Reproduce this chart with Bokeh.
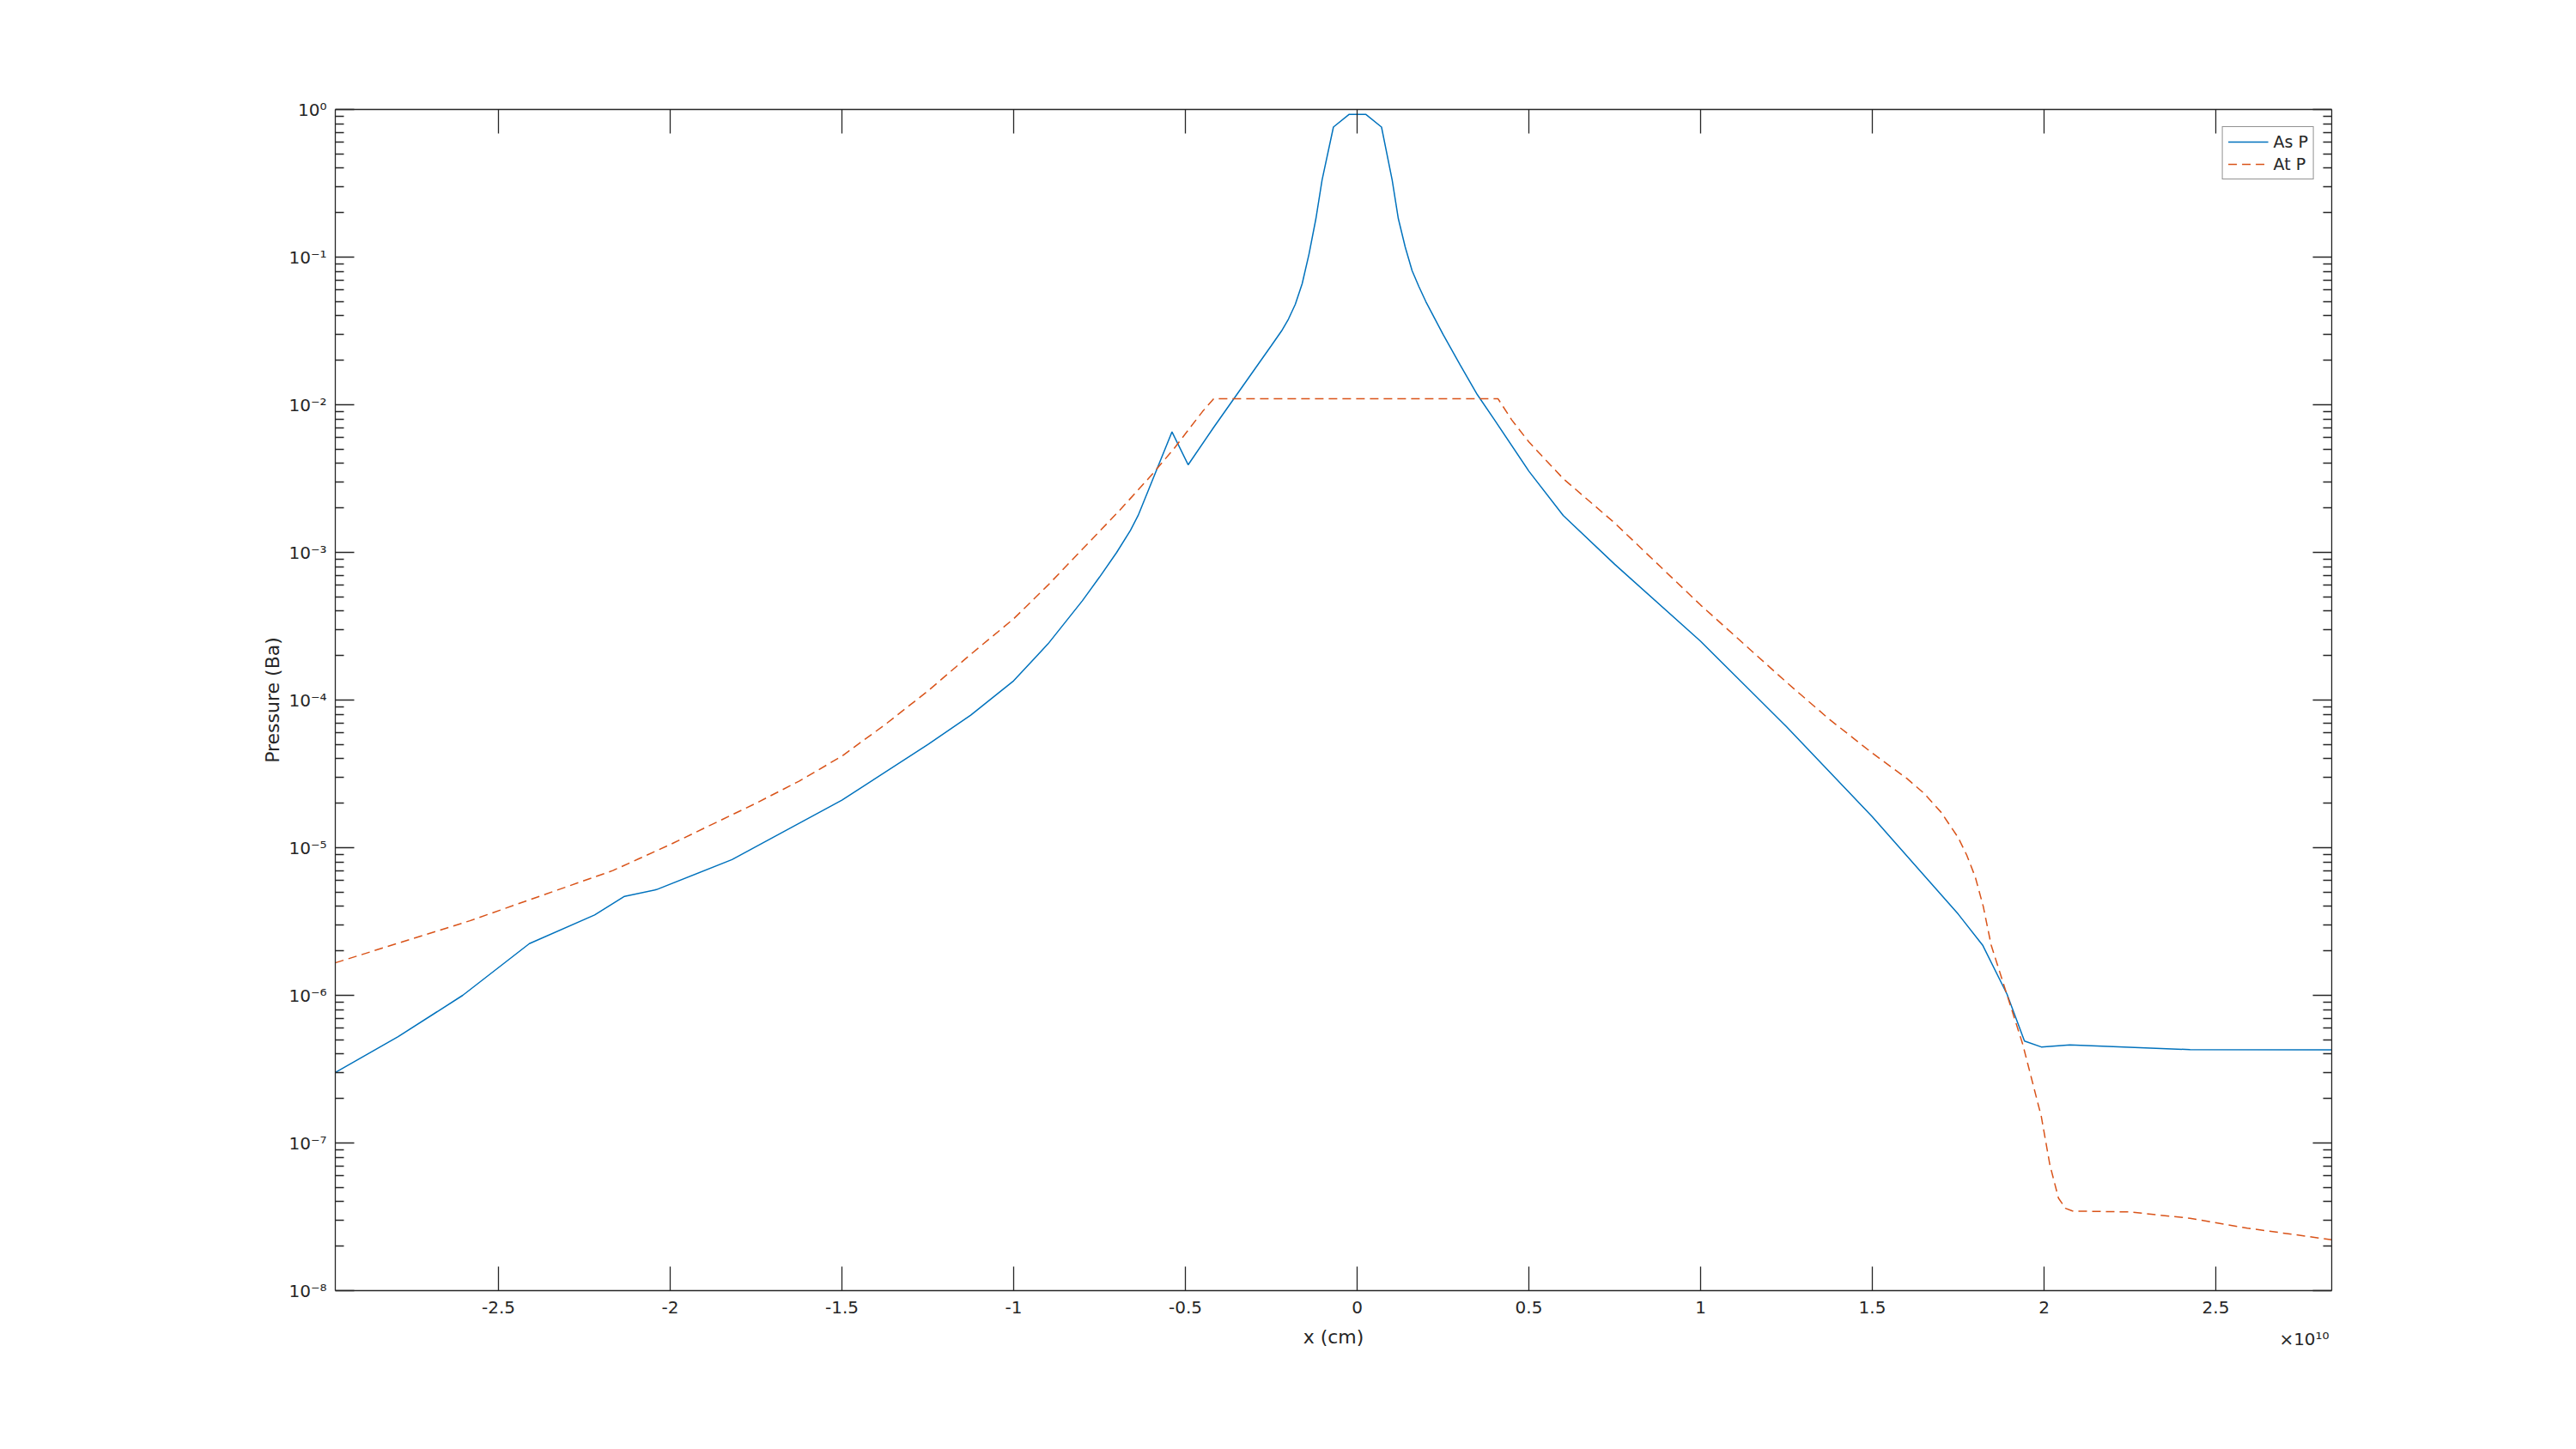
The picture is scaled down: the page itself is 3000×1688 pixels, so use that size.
from bokeh.plotting import figure
from bokeh.models import (Range1d, LinearAxis, LogAxis, FixedTicker,
                          CustomJSTickFormatter, Legend, LegendItem)
from bokeh.embed import file_html
from bokeh.resources import INLINE

# ---------------- data (x in units of 1e10 cm, pressure in Ba) ----------------
as_x = [-2.975, -2.792, -2.604, -2.41, -2.22, -2.133, -2.04, -1.82, -1.5, -1.25,
        -1.125, -1.0, -0.9, -0.8, -0.75, -0.7, -0.66, -0.6375, -0.539, -0.492,
        -0.417, -0.317, -0.28, -0.25, -0.22, -0.2, -0.18, -0.16, -0.14, -0.12,
        -0.102, -0.069, -0.023, 0.025, 0.071, 0.102, 0.12, 0.14, 0.16, 0.18,
        0.2, 0.25, 0.3, 0.35, 0.4, 0.5, 0.6, 0.75, 1.0, 1.25,
        1.5, 1.75, 1.821, 1.892, 1.943, 1.992, 2.075, 2.217, 2.425, 2.8375]
as_p = [3.0e-7, 5.25e-7, 1.0e-6, 2.24e-6, 3.5e-6, 4.68e-6, 5.2e-6, 8.3e-6, 2.1e-5, 5.0e-5,
        7.9e-5, 1.35e-4, 2.4e-4, 4.7e-4, 6.8e-4, 1.0e-3, 1.41e-3, 1.78e-3, 6.55e-3, 3.92e-3,
        7.06e-3, 1.51e-2, 2.0e-2, 2.51e-2, 3.16e-2, 3.8e-2, 4.79e-2, 6.6e-2, 0.105, 0.182,
        0.333, 0.76, 0.927, 0.927, 0.76, 0.333, 0.182, 0.117, 8.1e-2, 6.3e-2,
        5.0e-2, 3.0e-2, 1.86e-2, 1.17e-2, 7.9e-3, 3.55e-3, 1.78e-3, 8.3e-4, 2.5e-4, 6.6e-5,
        1.62e-5, 3.55e-6, 2.19e-6, 1.02e-6, 4.9e-7, 4.47e-7, 4.62e-7, 4.48e-7, 4.29e-7, 4.27e-7]

at_x = [-2.975, -2.583, -2.167, -2.092, -2.0, -1.75, -1.625, -1.5, -1.375, -1.25,
        -1.125, -1.0, -0.9, -0.8, -0.692, -0.6, -0.533, -0.45, -0.417, 0.41,
        0.45, 0.5, 0.6, 0.75, 1.0, 1.25, 1.375, 1.5, 1.6, 1.65,
        1.7, 1.75, 1.775, 1.8, 1.823, 1.846, 1.9375, 1.992, 2.017, 2.042,
        2.0625, 2.083, 2.25, 2.425, 2.592, 2.8375]
at_p = [1.66e-6, 3.2e-6, 7.0e-6, 8.4e-6, 1.05e-5, 2.0e-5, 2.82e-5, 4.17e-5, 6.8e-5, 1.15e-4,
        2.04e-4, 3.55e-4, 6.0e-4, 1.05e-3, 1.92e-3, 3.31e-3, 5.05e-3, 9.0e-3, 1.1e-2, 1.1e-2,
        7.9e-3, 5.6e-3, 3.16e-3, 1.58e-3, 4.4e-4, 1.32e-4, 7.4e-5, 4.37e-5, 2.95e-5, 2.34e-5,
        1.74e-5, 1.17e-5, 8.9e-6, 6.3e-6, 4.0e-6, 2.19e-6, 4.7e-7, 1.51e-7, 7.1e-8, 4.23e-8,
        3.61e-8, 3.46e-8, 3.41e-8, 3.09e-8, 2.65e-8, 2.21e-8]

series_names = ["As P", "At P"]
x_ticks = [-2.5, -2, -1.5, -1, -0.5, 0, 0.5, 1, 1.5, 2, 2.5]
y_ticks = [1e-8, 1e-7, 1e-6, 1e-5, 1e-4, 1e-3, 1e-2, 1e-1, 1e0]
y_minor = [m * t for t in y_ticks[:-1] for m in range(2, 10)]
x_label = "x (cm)"
y_label = "Pressure (Ba)"
x_multiplier = "×10¹⁰"

# ---------------- styling ----------------
FONT = "DejaVu Sans"
AX = "#262626"
BLUE = "#0072BD"
ORANGE = "#D95319"
MULT_POS = 2.7575  # horizontal anchor (data units) of the exponent note

p = figure(frame_width=2325, frame_height=1376,
           min_border_left=390, min_border_top=127,
           min_border_right=265, min_border_bottom=165,
           y_axis_type="log",
           x_range=Range1d(-2.975, 2.8375), y_range=Range1d(1e-8, 1.0),
           output_backend="svg", toolbar_location=None,
           background_fill_color="white", border_fill_color="white")
p.outline_line_color = None
p.grid.visible = False

r_as = p.line(as_x, as_p, line_color=BLUE, line_width=1.5)
r_at = p.line(at_x, at_p, line_color=ORANGE, line_width=1.5, line_dash="10 6")

x_fmt = CustomJSTickFormatter(code="return String(Math.round(tick*10)/10);")
y_fmt = CustomJSTickFormatter(code="""
const e = Math.round(Math.log10(tick));
const sup = {'-':'\u207b','0':'\u2070','1':'\u00b9','2':'\u00b2','3':'\u00b3','4':'\u2074',
             '5':'\u2075','6':'\u2076','7':'\u2077','8':'\u2078','9':'\u2079'};
return '10' + String(e).split('').map(c => sup[c]).join('');
""")
blank = CustomJSTickFormatter(code="return '';")


def style_axis(ax, is_x):
    ax.axis_line_color = AX
    ax.axis_line_width = 1.3
    ax.major_tick_line_color = AX
    ax.major_tick_line_width = 1.3
    ax.minor_tick_line_color = None if is_x else AX
    ax.minor_tick_line_width = 1.3
    ax.major_tick_out = 0
    ax.major_tick_in = 28 if is_x else 22
    ax.minor_tick_out = 0
    ax.minor_tick_in = 10
    ax.major_label_text_font = FONT
    ax.major_label_text_font_size = "20px"
    ax.major_label_text_color = AX
    ax.axis_label_text_font = FONT
    ax.axis_label_text_font_size = "22px"
    ax.axis_label_text_font_style = "normal"
    ax.axis_label_text_color = AX


xt = FixedTicker(ticks=x_ticks, minor_ticks=[])
yt = FixedTicker(ticks=y_ticks, minor_ticks=y_minor)

xb = p.xaxis[0]
xb.ticker = xt
xb.formatter = x_fmt
xb.axis_label = x_label
xb.major_label_standoff = 12
xb.axis_label_standoff = 12
style_axis(xb, True)

yl = p.yaxis[0]
yl.ticker = yt
yl.formatter = y_fmt
yl.axis_label = y_label
yl.major_label_standoff = 10
yl.axis_label_standoff = 3
style_axis(yl, False)

xa = LinearAxis(ticker=xt, formatter=blank)
style_axis(xa, True)
p.add_layout(xa, "above")

yr = LogAxis(ticker=yt, formatter=blank)
style_axis(yr, False)
p.add_layout(yr, "right")

# exponent note for the x axis, drawn as a label-only axis under the main one
mult_axis = LinearAxis(ticker=FixedTicker(ticks=[MULT_POS], minor_ticks=[]),
                       formatter=CustomJSTickFormatter(code="return '%s';" % x_multiplier))
style_axis(mult_axis, True)
mult_axis.axis_line_color = None
mult_axis.major_tick_line_color = None
mult_axis.major_label_standoff = -25
p.add_layout(mult_axis, "below")

legend = Legend(items=[LegendItem(label=series_names[0], renderers=[r_as]),
                       LegendItem(label=series_names[1], renderers=[r_at])],
                location="top_right")
legend.margin = 20
legend.padding = 6
legend.spacing = 4
legend.glyph_width = 47
legend.glyph_height = 20
legend.label_height = 20
legend.label_standoff = 6
legend.label_text_font = FONT
legend.label_text_font_size = "19px"
legend.label_text_color = AX
legend.border_line_color = AX
legend.border_line_width = 1.3
legend.background_fill_color = "white"
legend.background_fill_alpha = 1.0
p.add_layout(legend)

open("out.html", "w").write(file_html(p, INLINE))
